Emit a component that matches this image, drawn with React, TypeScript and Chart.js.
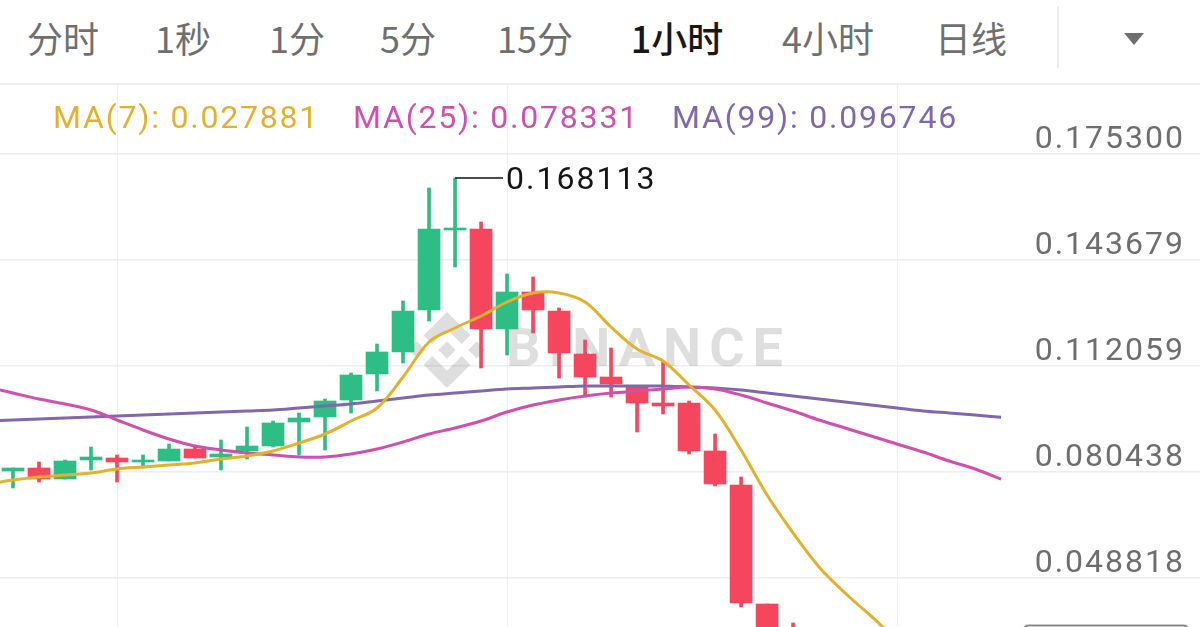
import React, { useEffect, useRef } from "react";
import { Chart, registerables } from "chart.js";

Chart.register(...registerables);

// ---- header tabs ----
const TABS = ["分时", "1秒", "1分", "5分", "15分", "1小时", "4小时", "日线"];
const TAB_CENTERS = [63, 183, 297, 408, 535, 677, 828, 971];
const ACTIVE_TAB = "1小时";

// ---- candles (index 1..39) ----
const OPEN = [
  0.080736, 0.081631, 0.078349, 0.084017, 0.084614, 0.08342, 0.083719, 0.087299, 0.084912, 0.086702,
  0.088193, 0.095353, 0.096844, 0.101916, 0.109672, 0.116235, 0.128764, 0.152628, 0.152927, 0.123096,
  0.134133, 0.128465, 0.115638, 0.108777, 0.105794, 0.101021, 0.101021, 0.086702, 0.076559, 0.04106,
  0.033, 0.029, 0.0275, 0.0282, 0.0296, 0.0274, 0.0268, 0.028, 0.0271,
];
const HIGH = [
  0.081631, 0.08342, 0.084017, 0.087895, 0.085509, 0.085509, 0.08879, 0.087895, 0.089983, 0.093861,
  0.095651, 0.098038, 0.102214, 0.10997, 0.118621, 0.131448, 0.165157, 0.168113, 0.155015, 0.139503,
  0.138608, 0.12936, 0.119814, 0.117428, 0.105794, 0.113252, 0.101617, 0.091773, 0.078946, 0.04106,
  0.035393, 0.0318, 0.0305, 0.032, 0.0315, 0.0292, 0.029, 0.0298, 0.0288,
];
const LOW = [
  0.075664, 0.077454, 0.078349, 0.081034, 0.077454, 0.081631, 0.083719, 0.084614, 0.081034, 0.084315,
  0.087895, 0.085509, 0.087, 0.098038, 0.104601, 0.112953, 0.125482, 0.141591, 0.111462, 0.11534,
  0.121903, 0.108479, 0.102811, 0.102811, 0.09237, 0.097739, 0.085807, 0.076261, 0.040166, 0.0315,
  0.027, 0.0262, 0.025, 0.027, 0.0268, 0.0255, 0.0258, 0.0262, 0.0262,
];
const CLOSE = [
  0.081631, 0.078349, 0.083719, 0.084912, 0.08342, 0.084017, 0.087299, 0.084614, 0.085807, 0.088193,
  0.095055, 0.096546, 0.101617, 0.109373, 0.116235, 0.128465, 0.152927, 0.153225, 0.123096, 0.134133,
  0.128764, 0.115936, 0.108777, 0.106689, 0.101021, 0.100126, 0.086702, 0.076858, 0.041359, 0.033,
  0.029, 0.0275, 0.0282, 0.0296, 0.0274, 0.0268, 0.028, 0.0271, 0.0281,
];

// ---- moving averages (index 0..39) ----
const MA7 = [
  0.076858, 0.078051, 0.078946, 0.079542, 0.080139, 0.081332, 0.081929, 0.082526, 0.083122, 0.084315,
  0.08521, 0.086702, 0.089088, 0.091773, 0.095651, 0.099529, 0.108777, 0.119218, 0.123394, 0.126974,
  0.13115, 0.133835, 0.133835, 0.13115, 0.123692, 0.11713, 0.11355, 0.10639, 0.098933, 0.087,
  0.073576, 0.062241, 0.052098, 0.044342, 0.037481, 0.030918, 0.029, 0.0283, 0.028, 0.027881,
];
const MA25 = [
  0.105794, 0.104004, 0.102214, 0.100722, 0.098933, 0.09595, 0.092966, 0.090282, 0.088193, 0.087,
  0.086105, 0.085509, 0.084912, 0.084912, 0.085807, 0.087299, 0.089387, 0.091773, 0.093563, 0.095651,
  0.098336, 0.100424, 0.101916, 0.103109, 0.104004, 0.104601, 0.105197, 0.105794, 0.105197, 0.103407,
  0.101021, 0.098634, 0.09595, 0.093563, 0.091177, 0.08879, 0.086404, 0.083719, 0.081332, 0.078331,
];
const MA99 = [
  0.095651, 0.09595, 0.096248, 0.096546, 0.096844, 0.097143, 0.097441, 0.097739, 0.098038, 0.098336,
  0.098634, 0.098933, 0.099529, 0.100126, 0.100722, 0.101617, 0.102512, 0.103407, 0.104004, 0.104601,
  0.105197, 0.105495, 0.105794, 0.106092, 0.106092, 0.106092, 0.106092, 0.105794, 0.105495, 0.104899,
  0.104004, 0.103109, 0.102214, 0.101319, 0.100424, 0.099529, 0.098634, 0.098038, 0.097441, 0.096746,
];
const MA_LABELS = ["MA(7): 0.027881", "MA(25): 0.078331", "MA(99): 0.096746"];
const MA_LABEL_X = [53, 353, 672];

// ---- axes ----
const Y_TICKS = [0.1753, 0.143679, 0.112059, 0.080438, 0.048818];
const Y_MIN = 0.034199;
const Y_MAX = 0.195883;
const X_MIN = 0.5;
const X_MAX = 46.65;
const X_GRID = [5, 20, 35];
const MAX_VALUE = 0.168113;

const GREEN = "#2ebd85";
const RED = "#f6465d";
const C_MA7 = "#e3b22c";
const C_MA25 = "#cf50ad";
const C_MA99 = "#7f68ad";
const LEGEND_COLORS = [C_MA7, C_MA25, C_MA99];
const FONT = "Roboto, 'Noto Sans', sans-serif";

const candleColor = (k: number) => (CLOSE[k] >= OPEN[k] ? GREEN : RED);

const LOGO_TOP = [[38.73, 53.2], [63.3, 28.64], [87.89, 53.22], [102.19, 38.92], [63.3, 0], [24.42, 38.9]];
const LOGO_BOTTOM = [[38.73, 73.41], [63.3, 97.97], [87.89, 73.39], [102.2, 87.69], [63.3, 126.6], [24.41, 87.7]];

const overlayPlugin = {
  id: "overlay",
  beforeDatasetsDraw(chart: any) {
    const { ctx, chartArea } = chart;
    const cx = (chartArea.left + chartArea.right) / 2;
    const cy = (chartArea.top + chartArea.bottom) / 2;
    ctx.save();
    ctx.fillStyle = "rgba(0,0,0,0.13)";
    const s = 76 / 126.6;
    const lx = cx - 153;
    const ly = cy - 6;
    const poly = (pts: number[][]) => {
      ctx.beginPath();
      pts.forEach(([x, y], i) => {
        const px = lx + (x - 63.3) * s;
        const py = ly + (y - 63.3) * s;
        if (i) ctx.lineTo(px, py);
        else ctx.moveTo(px, py);
      });
      ctx.closePath();
      ctx.fill();
    };
    const diamond = (x: number, y: number, r: number) => poly([[x, y - r], [x + r, y], [x, y + r], [x - r, y]]);
    poly(LOGO_TOP);
    poly(LOGO_BOTTOM);
    diamond(13.7, 63.3, 14.3);
    diamond(112.9, 63.3, 14.3);
    diamond(63.3, 63.3, 14.55);
    ctx.font = `bold 54px ${FONT}`;
    (ctx as any).letterSpacing = "8px";
    ctx.textAlign = "left";
    ctx.textBaseline = "alphabetic";
    ctx.fillText("BINANCE", cx - 94, cy + 10);
    ctx.restore();
  },
  afterDatasetsDraw(chart: any) {
    const { ctx, chartArea, scales } = chart;
    const ys = scales.y;
    const xs = scales.x;
    ctx.save();
    ctx.textBaseline = "alphabetic";
    // price axis labels
    ctx.font = `32px ${FONT}`;
    (ctx as any).letterSpacing = "2px";
    ctx.fillStyle = "#6e6e6e";
    ctx.textAlign = "right";
    Y_TICKS.forEach((v) => {
      ctx.fillText(v.toFixed(6), chartArea.right - 15, ys.getPixelForValue(v) - 6);
    });
    // max marker
    const hiIdx = HIGH.indexOf(MAX_VALUE);
    const hx = xs.getPixelForValue(hiIdx + 1);
    const hy = ys.getPixelForValue(MAX_VALUE);
    ctx.strokeStyle = "#111";
    ctx.lineWidth = 1.5;
    ctx.beginPath();
    ctx.moveTo(hx, hy);
    ctx.lineTo(hx + 48, hy);
    ctx.stroke();
    ctx.fillStyle = "#161616";
    ctx.textAlign = "left";
    ctx.fillText(MAX_VALUE.toFixed(6), hx + 51, hy + 11);
    // MA legend
    (ctx as any).letterSpacing = "1.8px";
    MA_LABELS.forEach((t, i) => {
      ctx.fillStyle = LEGEND_COLORS[i];
      ctx.fillText(t, MA_LABEL_X[i], chartArea.top + 43);
    });
    // current price box (mostly below view)
    const lastY = ys.getPixelForValue(CLOSE[CLOSE.length - 1]);
    ctx.strokeStyle = "#8a8a8a";
    ctx.lineWidth = 2;
    ctx.fillStyle = "#ffffff";
    ctx.beginPath();
    (ctx as any).roundRect(1024, lastY - 22, 164, 44, 4);
    ctx.fill();
    ctx.stroke();
    ctx.restore();
  },
};

export default function App() {
  const canvasRef = useRef<HTMLCanvasElement | null>(null);

  useEffect(() => {
    const canvas = canvasRef.current;
    if (!canvas) return;
    const idx = CLOSE.map((_, k) => k + 1);
    const lineDs = (data: number[], color: string) =>
      ({
        type: "line",
        data: data.map((v, i) => ({ x: i, y: v })),
        borderColor: color,
        borderWidth: 3,
        pointRadius: 0,
        tension: 0.35,
        order: 1,
      } as any);
    const chart = new Chart(canvas, {
      type: "bar",
      data: {
        datasets: [
          lineDs(MA7, C_MA7),
          lineDs(MA25, C_MA25),
          lineDs(MA99, C_MA99),
          {
            type: "bar",
            data: idx.map((x, k) => ({ x, y: [OPEN[k], CLOSE[k]] })),
            backgroundColor: (c: any) => candleColor(c.dataIndex ?? 0),
            barThickness: 22,
            minBarLength: 2,
            grouped: false,
            order: 2,
          } as any,
          {
            type: "bar",
            data: idx.map((x, k) => ({ x, y: [LOW[k], HIGH[k]] })),
            backgroundColor: (c: any) => candleColor(c.dataIndex ?? 0),
            barThickness: 3,
            grouped: false,
            order: 3,
          } as any,
        ],
      },
      options: {
        responsive: false,
        maintainAspectRatio: false,
        animation: false,
        devicePixelRatio: 1,
        events: [],
        layout: { padding: 0, autoPadding: false },
        plugins: { legend: { display: false }, tooltip: { enabled: false }, title: { display: false } },
        scales: {
          x: {
            type: "linear",
            min: X_MIN,
            max: X_MAX,
            bounds: "data",
            offset: false,
            grid: { color: "#eeeeee", lineWidth: 1, drawTicks: false, offset: false },
            border: { display: false },
            ticks: { display: false },
            afterBuildTicks: (axis: any) => {
              axis.ticks = X_GRID.map((v) => ({ value: v }));
            },
          },
          y: {
            type: "linear",
            position: "right",
            min: Y_MIN,
            max: Y_MAX,
            bounds: "data",
            grid: { color: "#eeeeee", lineWidth: 1.5, drawTicks: false },
            border: { display: false },
            ticks: { display: false },
            afterBuildTicks: (axis: any) => {
              axis.ticks = Y_TICKS.map((v) => ({ value: v }));
            },
          },
        } as any,
      },
      plugins: [overlayPlugin],
    } as any);
    return () => chart.destroy();
  }, []);

  return (
    <div
      style={{
        position: "fixed",
        left: 0,
        top: 0,
        width: 1200,
        height: 627,
        background: "#ffffff",
        overflow: "hidden",
      }}
    >
      <div
        style={{
          position: "absolute",
          left: 0,
          top: 0,
          width: 1200,
          height: 83,
          borderBottom: "2px solid #efefef",
          background: "#fff",
        }}
      >
        {TABS.map((t, i) => (
          <span
            key={t}
            style={{
              position: "absolute",
              left: TAB_CENTERS[i],
              top: 18,
              transform: "translateX(-50%)",
              fontFamily: "'Noto Sans CJK SC', sans-serif",
              fontSize: 36,
              lineHeight: "38px",
              whiteSpace: "nowrap",
              color: t === ACTIVE_TAB ? "#181818" : "#6f6f6f",
              fontWeight: t === ACTIVE_TAB ? 500 : 400,
            }}
          >
            {t}
          </span>
        ))}
        <div style={{ position: "absolute", left: 1057, top: 6, width: 2, height: 62, background: "#ececec" }} />
        <div
          style={{
            position: "absolute",
            left: 1124,
            top: 33,
            width: 0,
            height: 0,
            borderLeft: "10px solid transparent",
            borderRight: "10px solid transparent",
            borderTop: "12px solid #6f6f6f",
          }}
        />
      </div>
      <canvas
        ref={canvasRef}
        width={1200}
        height={542}
        style={{ position: "absolute", left: 0, top: 85, width: 1200, height: 542 }}
      />
    </div>
  );
}
